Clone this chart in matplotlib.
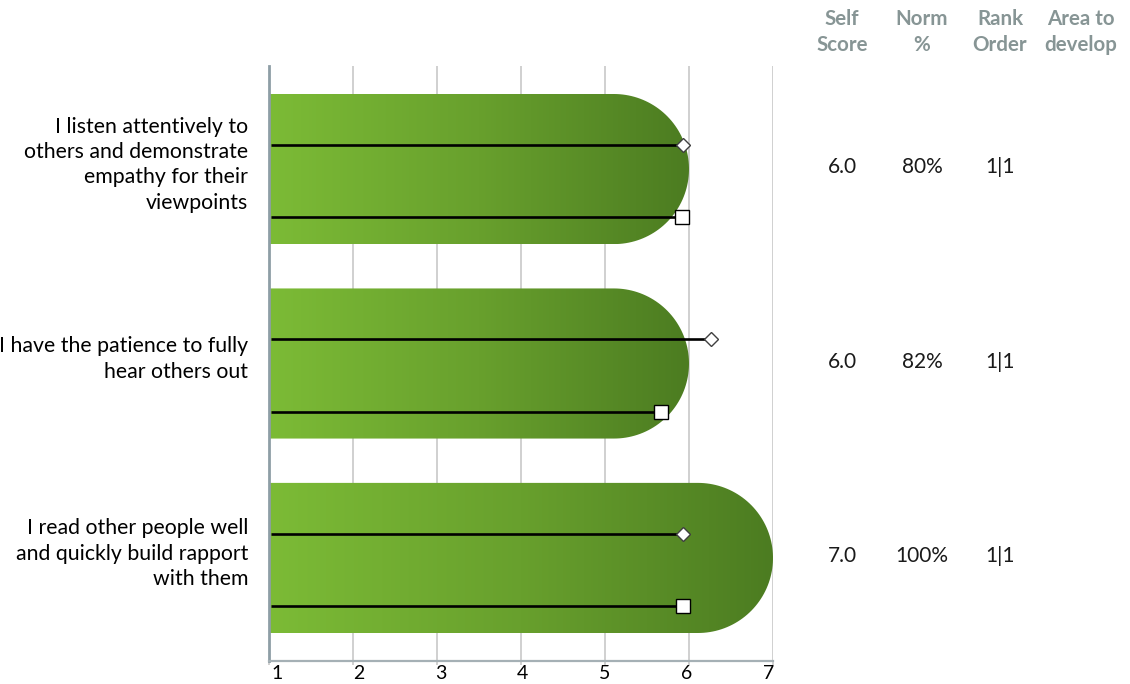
import numpy as np
import matplotlib
matplotlib.use("Agg")
import matplotlib.pyplot as plt
from matplotlib.path import Path
from matplotlib.patches import PathPatch
from matplotlib import transforms
from matplotlib.colors import LinearSegmentedColormap

plt.rcParams['font.family'] = ['Lato', 'DejaVu Sans']

# ---- data ----
categories = [
    "I listen attentively to\nothers and demonstrate\nempathy for their\nviewpoints",
    "I have the patience to fully\nhear others out",
    "I read other people well\nand quickly build rapport\nwith them",
]
self_scores = [6.0, 6.0, 7.0]
diamond_values = [5.93, 6.26, 5.93]
square_values = [5.92, 5.67, 5.93]
self_score_labels = ["6.0", "6.0", "7.0"]
norm_labels = ["80%", "82%", "100%"]
rank_labels = ["1|1", "1|1", "1|1"]
area_labels = ["", "", ""]
headers = ["Self\nScore", "Norm\n%", "Rank\nOrder", "Area to\ndevelop"]
x_ticks = [1, 2, 3, 4, 5, 6, 7]

W, H = 1130, 684
fig = plt.figure(figsize=(W / 100, H / 100), dpi=100)
ax_l, ax_r, ax_t, ax_b = 269, 773, 66, 661
ax = fig.add_axes([ax_l / W, (H - ax_b) / H, (ax_r - ax_l) / W, (ax_b - ax_t) / H])
ax.set_xlim(1, 7)
ax.set_ylim(2.53, -0.53)

xpx = (ax_r - ax_l) / 6.0
ypx = (ax_b - ax_t) / 3.06
half_h = 0.386
rx = half_h * ypx / xpx

cmap = LinearSegmentedColormap.from_list("g", ["#7cbb36", "#68a02d", "#4c7c21"])
grad = np.linspace(0, 1, 256).reshape(1, -1)

for i, v in enumerate(self_scores):
    top, bot = i - half_h, i + half_h
    th = np.linspace(-np.pi / 2, np.pi / 2, 80)
    xs = [1, v - rx] + list(v - rx + rx * np.cos(th)) + [v - rx, 1]
    ys = [top, top] + list(i + half_h * np.sin(th)) + [bot, bot]
    verts = list(zip(xs, ys)) + [(1, top)]
    codes = [Path.MOVETO] + [Path.LINETO] * (len(verts) - 2) + [Path.CLOSEPOLY]
    patch = PathPatch(Path(verts, codes), facecolor="none", edgecolor="none", zorder=2)
    ax.add_patch(patch)
    im = ax.imshow(grad, extent=[1, v, bot, top], aspect="auto", cmap=cmap,
                   zorder=2, interpolation="bilinear")
    im.set_clip_path(patch)

ax.set_xlim(1, 7)
ax.set_ylim(2.53, -0.53)

for i, (d, s) in enumerate(zip(diamond_values, square_values)):
    yd = i - 0.124
    ys_ = i + 0.247
    ax.plot([1.02, d], [yd, yd], color="black", lw=1.9, zorder=3, solid_capstyle="butt")
    ax.plot([d], [yd], marker="D", ms=7.5, mfc="white", mec="#404040", mew=1.0, zorder=4)
    ax.plot([1.02, s], [ys_, ys_], color="black", lw=1.9, zorder=3, solid_capstyle="butt")
    ax.plot([s], [ys_], marker="s", ms=10.5, mfc="white", mec="black", mew=1.0, zorder=4)

# grid & spines
ax.set_xticks(x_ticks)
ax.set_xticklabels([str(t) for t in x_ticks], fontsize=14)
ax.grid(axis="x", color="#d0d0d0", lw=1.4, zorder=0)
ax.set_axisbelow(True)
ax.tick_params(axis="x", length=3, color="#d0d0d0", width=1.4, pad=0.2, direction="out")
n = len(x_ticks)
for k, lab in enumerate(ax.get_xticklabels()):
    dx = (8 - 12.5 * k / (n - 1)) / 100
    lab.set_transform(lab.get_transform() + transforms.ScaledTranslation(dx, 0, fig.dpi_scale_trans))
ax.set_yticks(range(len(categories)))
ax.set_yticklabels(categories, fontsize=15.3, linespacing=1.33, ha="right")
ax.tick_params(axis="y", length=0, pad=15)
for lab in ax.get_yticklabels():
    lab.set_transform(lab.get_transform() + transforms.ScaledTranslation(0, 9 / 100, fig.dpi_scale_trans))
for sp in ["top", "right"]:
    ax.spines[sp].set_visible(False)
ax.spines["left"].set_color("#8e9ea6")
ax.spines["left"].set_linewidth(2)
ax.spines["bottom"].set_color("#a5b0b5")
ax.spines["bottom"].set_linewidth(1.6)

# right-side table
col_x = [842, 922, 1000, 1081]
for cx, htxt in zip(col_x, headers):
    fig.text(cx / W, 1 - 32 / H, htxt, ha="center", va="center", fontsize=14.8,
             fontweight="bold", color="#879595", linespacing=1.4)

tr = transforms.blended_transform_factory(fig.transFigure, ax.transData)
for i in range(len(categories)):
    for cx, labels in zip(col_x, [self_score_labels, norm_labels, rank_labels, area_labels]):
        fig.text(cx / W, i - 0.01, labels[i], ha="center", va="center", fontsize=15,
                 color="#1a1a1a", transform=tr)

fig.savefig("out.png", dpi=100)
